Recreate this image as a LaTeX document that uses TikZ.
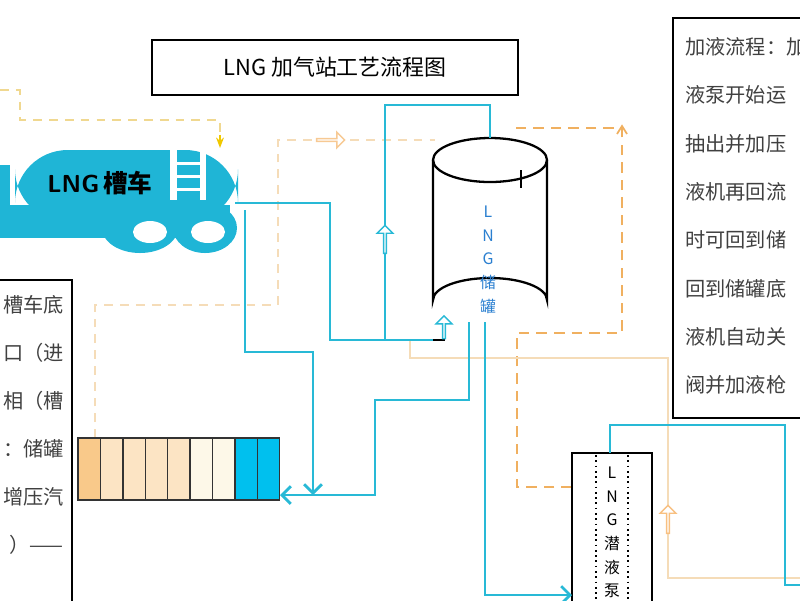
\documentclass[tikz,border=0pt]{standalone}
\usepackage{fontspec}
\setmainfont{Liberation Serif}
\newfontfamily\cjk{Noto Sans CJK SC}
\usetikzlibrary{arrows.meta,shapes.arrows}
\definecolor{pipe}{HTML}{28B9D6}
\definecolor{truck}{HTML}{1FB5D6}
\definecolor{dorg}{HTML}{F0B060}
\definecolor{lorg}{HTML}{F5DCB8}
\definecolor{yel}{HTML}{F0D890}
\definecolor{yelarr}{HTML}{F0C800}
\definecolor{tblue}{HTML}{2A7FD0}
\begin{document}
\begin{tikzpicture}[x=0.02cm,y=-0.02cm,
  pipe/.style={draw=pipe,line width=1.6pt},
  dash1/.style={draw=dorg,line width=1.2pt,dash pattern=on 6pt off 4pt},
  dash2/.style={draw=lorg,line width=1pt,dash pattern=on 5pt off 4pt},
  box/.style={draw=black,line width=1.2pt},
  harrow/.style={single arrow,draw=#1,fill=white,line width=0.8pt,minimum height=16pt,minimum width=9pt,single arrow head extend=2pt,inner sep=0pt},
  txt/.style={font=\cjk\fontsize{11.5pt}{11.5pt}\selectfont,text=black!75,anchor=west,inner sep=0pt},
  vt/.style={font=\cjk\fontsize{9pt}{9pt}\selectfont,inner sep=0pt}]
\useasboundingbox (0,0) rectangle (800,600);
\begin{scope}
\clip (0,0) rectangle (800,600);
% title
\node[box,minimum width=366*0.02cm,minimum height=55*0.02cm,font=\cjk\fontsize{12.5pt}{12.5pt}\selectfont] (title) at (335,67.5) {LNG 加气站工艺流程图};
% right text box
\draw[box] (673,18) rectangle (830,418);
\foreach \t [count=\i] in {加液流程：加,液泵开始运,抽出并加压,液机再回流,时可回到储,回到储罐底,液机自动关,阀并加液枪}
  \node[txt] (r\i) at (685,{47+(\i-1)*48.3}) {\t};
% left text box
\draw[box] (-20,280) rectangle (72,620);
\foreach \t [count=\i] in {槽车底,口（进,相（槽,：储罐,增压汽,）——}
  \node[txt,anchor=east] (l\i) at (64,{305+(\i-1)*48}) {\t};
% dashed lines
\draw[dash2,draw=yel] (0,90) -- (20,90) -- (20,120) -- (220,120) -- (220,135);
\draw[-{Stealth[length=6pt]},draw=yelarr,line width=1pt] (220,135) -- (220,148);
\draw[dash2] (95,438) -- (95,305) -- (278,305) -- (278,140) -- (435,140);
\node[harrow=lorg!80!orange] (ha1) at (330,140) {};
\draw[dash1] (572,487) -- (517,487) -- (517,333) -- (622,333) -- (622,128) -- (515,128);
\draw[dorg,line width=1pt] (617,134) -- (622,126) -- (627,134);
\draw[lorg,line width=0.7pt] (410,340) -- (410,358) -- (668,358) -- (668,578) -- (800,578);
\node[harrow=lorg!70!orange,rotate=90] (ha2) at (668,520) {};
% truck
\fill[truck,rounded corners=30pt] (15,150) rectangle (238,222);
\fill[truck] (0,205) rectangle (230,238);
\fill[truck] (0,165) rectangle (10,210);
\fill[white] (10,160) rectangle (14,202);
\fill[truck] (140,228) ellipse (38 and 25);
\fill[truck] (205,228) ellipse (32 and 25);
\fill[white] (150,232) ellipse (17 and 11);
\fill[white] (208,232) ellipse (17 and 11);
\fill[white] (170,150) rectangle (177,200);
\fill[white] (200,150) rectangle (206,200);
\foreach \y in {162,175,188} \fill[white] (177,\y) rectangle (200,\y+3);
\node[font=\sffamily\bfseries\fontsize{14pt}{14pt}\selectfont] (truckname) at (100,183) {LNG\,{\cjk\bfseries 槽车}};
% tank
\draw[line width=1.3pt,fill=white] (433,160) -- (433,300) arc[start angle=180,end angle=360,x radius=57,y radius=22] -- (547,160);
\draw[line width=1.3pt] (490,160) ellipse (57 and 22);
\draw[line width=1pt] (521,170) -- (521,188);
\foreach \c [count=\i] in {L,N,G,储,罐}
  \node[vt,text=tblue] (tk\i) at (488,{212+(\i-1)*23.5}) {\c};
% pump
\draw[box,fill=white] (572,453) rectangle (652,620);
\draw[dotted,line width=1pt] (596,455) -- (596,600) (628,455) -- (628,600);
\foreach \c [count=\i] in {L,N,G,潜,液,泵}
  \node[vt] (pp\i) at (612,{473+(\i-1)*23.5}) {\c};
% storage bar
\foreach \c [count=\i] in {F9C98A,FCE4C4,FCE4C4,FCE4C4,FCE4C4,FDF8E8,FDF8E8,00C0EE,00C0EE}{
  \definecolor{cellc}{HTML}{\c}
  \filldraw[fill=cellc,draw=black!80,line width=0.8pt] ({78+(\i-1)*22.4},438) rectangle ({78+\i*22.4},500);}
\coordinate (bar) at (280,495);
% pipes
\draw[pipe] (235,203) -- (330,203) -- (330,340) -- (433,340);
\draw[black,line width=1.6pt] (433,340) -- (445,340);
\node[harrow=pipe,rotate=90,minimum height=13pt] (ha3) at (444,328) {};
\draw[pipe] (385,340) -- (385,105) -- (490,105) -- (490,138);
\node[harrow=pipe,rotate=90] (ha4) at (385,240) {};
\draw[pipe,-{Straight Barb[length=5pt]}] (245,210) -- (245,352) -- (313,352) -- (313,495);
\draw[pipe,-{Straight Barb[length=5pt]}] (469,322) -- (469,400) -- (375,400) -- (375,495) -- (bar);
\draw[pipe,-{Straight Barb[length=5pt]}] (485,322) -- (485,595) -- (572,595);
\draw[pipe] (610,453) -- (610,425) -- (785,425) -- (785,585) -- (810,585);
\end{scope}
\end{tikzpicture}
\end{document}
